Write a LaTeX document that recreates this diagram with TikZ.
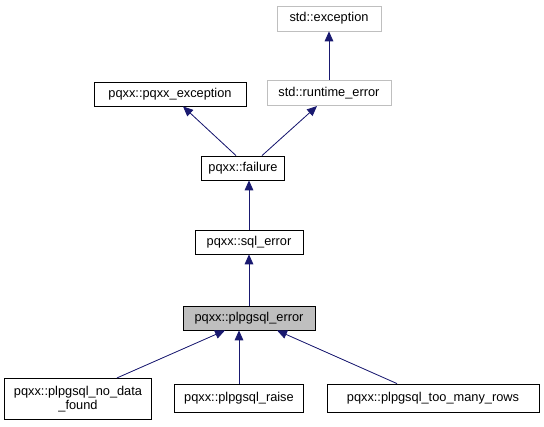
\documentclass[tikz,border=0pt]{standalone}
\usepackage{fontspec}
\setmainfont{Liberation Sans}
\usetikzlibrary{arrows.meta,positioning}
\definecolor{edgeblue}{RGB}{25,25,112}

\begin{document}
\begin{tikzpicture}[
    x=0.75pt, y=-0.75pt,
    font=\fontsize{9.6}{11}\selectfont,
    cls/.style={draw=black, fill=white, inner sep=0pt, minimum height=18pt, align=center, line width=0.6pt},
    ext/.style={cls, draw=black!25},
    cur/.style={cls, fill=black!25},
    inh/.style={{Triangle[length=7.5pt, width=6.5pt]}-, draw=edgeblue, fill=edgeblue, line width=0.6pt}
]
\useasboundingbox (0,0) rectangle (544,427);

\node[ext, minimum width=78pt, minimum height=18.75pt] (stdexc) at (329,18.5) {std::exception};
\node[ext, minimum width=93pt, minimum height=19pt] (stdrt) at (329,93) {std::runtime\_error};
\node[cls, minimum width=114pt] (pqxxexc) at (170,94) {pqxx::pqxx\_exception};
\node[cls, minimum width=62pt] (failure) at (243,168) {pqxx::failure};
\node[cls, minimum width=81pt] (sqlerr) at (249,242) {pqxx::sql\_error};
\node[cur, minimum width=99pt] (plerr) at (249,318) {pqxx::plpgsql\_error};
\node[cls, minimum width=110pt, minimum height=31pt] (nodata) at (78,399) {pqxx::plpgsql\_no\_data\\\_found};
\node[cls, minimum width=97pt, minimum height=21pt] (raise) at (239,398) {pqxx::plpgsql\_raise};
\node[cls, minimum width=159pt, minimum height=21pt] (toomany) at (433,398) {pqxx::plpgsql\_too\_many\_rows};

% inheritance arrows
\draw[inh] (stdexc.south) -- (stdrt.north);
\draw[inh] ([xshift=9.75pt]pqxxexc.south) -- ([xshift=-5.25pt]failure.north);
\draw[inh] ([xshift=-9pt]stdrt.south) -- ([xshift=14.25pt]failure.north);
\draw[inh] (failure.south -| sqlerr.north) -- (sqlerr.north);
\draw[inh] (sqlerr.south) -- (plerr.north);
\draw[inh] ([xshift=-18pt]plerr.south) -- ([xshift=29.25pt]nodata.north);
\draw[inh] (plerr.south -| raise.north) -- (raise.north);
\draw[inh] ([xshift=21pt]plerr.south) -- ([xshift=-27pt]toomany.north);
\end{tikzpicture}
\end{document}
